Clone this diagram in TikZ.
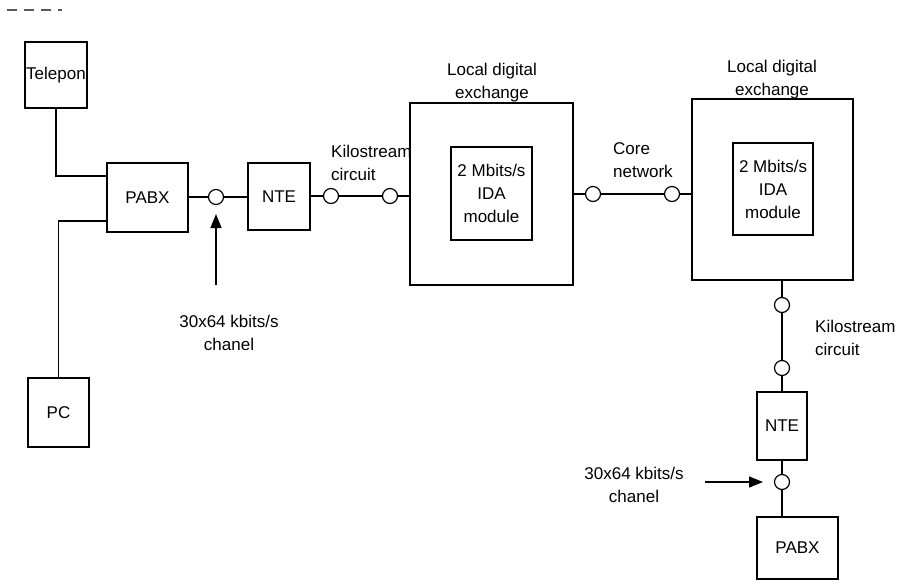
\documentclass[tikz,border=0pt]{standalone}
\usepackage{fontspec}
\setmainfont{Liberation Sans}
\usetikzlibrary{arrows.meta,calc}
\begin{document}
\begin{tikzpicture}[x=1pt,y=-1pt,
  every node/.style={font=\fontsize{17}{23}\selectfont},
  box/.style={draw, line width=1.2pt, inner sep=0pt},
  jn/.style={circle, draw, line width=1.2pt, minimum size=15pt, inner sep=0pt, fill=white},
  wire/.style={line width=1.2pt},
  lbl/.style={inner sep=0pt, align=center},
  lbll/.style={inner sep=0pt, align=left, anchor=west},
  pointer/.style={line width=1.2pt, -{Triangle[length=14pt,width=11pt]}}]
\useasboundingbox (0,0) rectangle (902,584);
% scan dashes
\draw[line width=1.5pt, dash pattern=on 10pt off 7pt, gray!70!black] (7,10) -- (62,10);
% boxes
\node[box, minimum width=62pt, minimum height=66pt] (tel) at (56,75) {Telepon};
\node[box, minimum width=81pt, minimum height=69pt] (pabx) at (147.5,197.5) {PABX};
\node[box, minimum width=61pt, minimum height=69pt] (pc) at (58.5,412.5) {PC};
\node[box, minimum width=62pt, minimum height=67pt] (nte) at (279,196.5) {NTE};
\node[box, minimum width=163pt, minimum height=182pt] (lde1) at (491.5,194) {};
\node[box, minimum width=81pt, minimum height=93pt, align=center] (ida1) at (491.5,193.5) {2 Mbits/s\\IDA\\module};
\node[box, minimum width=161pt, minimum height=181pt] (lde2) at (772.5,189.5) {};
\node[box, minimum width=80pt, minimum height=92pt, align=center] (ida2) at (773,189) {2 Mbits/s\\IDA\\module};
\node[box, minimum width=50pt, minimum height=68pt] (nte2) at (782,426) {NTE};
\node[box, minimum width=81pt, minimum height=62pt] (pabx2) at (797.5,548) {PABX};
% junctions
\node[jn] (c1) at (216,197) {};
\node[jn] (c2) at (331,196) {};
\node[jn] (c3) at (390,196) {};
\node[jn] (c4) at (593,194) {};
\node[jn] (c5) at (672,194) {};
\node[jn] (c6) at (782,305) {};
\node[jn] (c7) at (782,368) {};
\node[jn] (c8) at (782,482) {};
\coordinate (a1) at (216,285);
\coordinate (a2) at (705,482);
% connectors
\draw[wire] (tel.south) |- ([yshift=21.5pt]pabx.west);
\draw[wire] ([yshift=-23.5pt]pabx.west) -| (pc.north);
\draw[wire] (pabx.east |- c1) -- (c1) -- (c1 -| nte.west);
\draw[wire] (c2 -| nte.east) -- (c2) -- (c3) -- (c3 -| lde1.west);
\draw[wire] (c4 -| lde1.east) -- (c4) -- (c5) -- (c5 -| lde2.west);
\draw[wire] (c6 |- lde2.south) -- (c6) -- (c7) -- (c7 |- nte2.north);
\draw[wire] (c8 |- nte2.south) -- (c8) -- (c8 |- pabx2.north);
\draw[pointer, shorten >=17pt] (a1) -- (c1.center);
\draw[pointer, shorten >=19pt] (a2) -- (c8.center);
% labels
\node[lbl] (t1) at (492,83) {Local digital\\exchange};
\node[lbl] (t2) at (772,80) {Local digital\\exchange};
\node[lbll] (t3) at (331,163) {Kilostream\\circuit};
\node[lbll] (t4) at (613,160) {Core\\network};
\node[lbll] (t5) at (815,338) {Kilostream\\circuit};
\node[lbl] (t6) at (229,333) {30x64 kbits/s\\chanel};
\node[lbl] (t7) at (634,485) {30x64 kbits/s\\chanel};
\end{tikzpicture}
\end{document}
